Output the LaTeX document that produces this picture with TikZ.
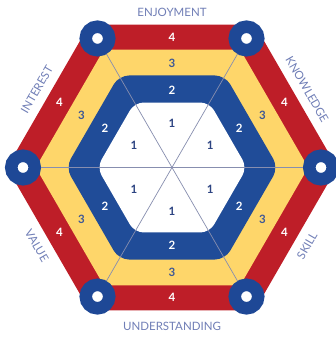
\documentclass[tikz,border=0pt]{standalone}
\usepackage{fontspec}
\setmainfont{Lato}
\usetikzlibrary{shapes.geometric}

\definecolor{bandred}{RGB}{190,30,40}
\definecolor{bandyellow}{RGB}{254,214,106}
\definecolor{bandblue}{RGB}{32,76,152}
\definecolor{ringblue}{RGB}{30,72,150}
\definecolor{numblue}{RGB}{45,68,130}
\definecolor{threeblue}{RGB}{62,88,150}
\definecolor{labelblue}{RGB}{112,126,182}
\definecolor{spokegray}{RGB}{135,142,175}

\tikzset{
  hexband/.style={regular polygon, regular polygon sides=6, inner sep=0pt, outer sep=0pt},
  ring/.style={circle, fill=white, draw=ringblue, line width=12.5pt, minimum size=23.5pt, inner sep=0pt},
  spoke/.style={draw=spokegray, line width=0.7pt},
  num/.style={font=\fontsize{11.5}{11.5}\selectfont\bfseries, inner sep=0pt},
  axislabel/.style={font=\fontsize{11.5}{11.5}\selectfont, text=labelblue, inner sep=0pt},
}

\begin{document}
\begin{tikzpicture}[x=1pt,y=1pt]
  \useasboundingbox (-172,-170.5) rectangle (164,167.5);

  % the four bands, outermost first
  \node[hexband, fill=bandred, minimum size=330.2pt] (red) at (0,0) {};
  \node[hexband, fill=bandyellow, minimum size=272.5pt, rounded corners=4pt] (yellow) at (0,0) {};
  \node[hexband, fill=bandblue, minimum size=212.5pt, rounded corners=10pt] (blue) at (0,0) {};
  \node[hexband, fill=white, minimum size=150pt, rounded corners=9pt] (core) at (0,0) {};

  % rings at the corners
  \foreach \i/\a in {1/0, 2/60, 3/120, 4/180, 5/240, 6/300}
    \node[ring] (c\i) at (\a:149) {};

  % spokes through the middle
  \draw[spoke] (c1) -- (c4);
  \draw[spoke] (c2) -- (c5);
  \draw[spoke] (c3) -- (c6);

  % scores on each side
  \foreach \a in {30, 90, 150, 210, 270, 330} {
    \node[num, text=numblue] (one\a) at (\a:44) {1};
    \node[num, text=white] (two\a) at (\a:77.5) {2};
    \node[num, text=threeblue] (three\a) at (\a:104.5) {3};
    \node[num, text=white] (four\a) at (\a:130) {4};
  }

  % side names
  \node[axislabel] (enjoyment) at (90:155.5) {ENJOYMENT};
  \node[axislabel, rotate=-60] (knowledge) at (30:156) {KNOWLEDGE};
  \node[axislabel, rotate=60] (skill) at (-30:156) {SKILL};
  \node[axislabel] (understanding) at (-90:158.5) {UNDERSTANDING};
  \node[axislabel, rotate=-60] (value) at (210:156) {VALUE};
  \node[axislabel, rotate=60] (interest) at (150:156) {INTEREST};
\end{tikzpicture}
\end{document}
